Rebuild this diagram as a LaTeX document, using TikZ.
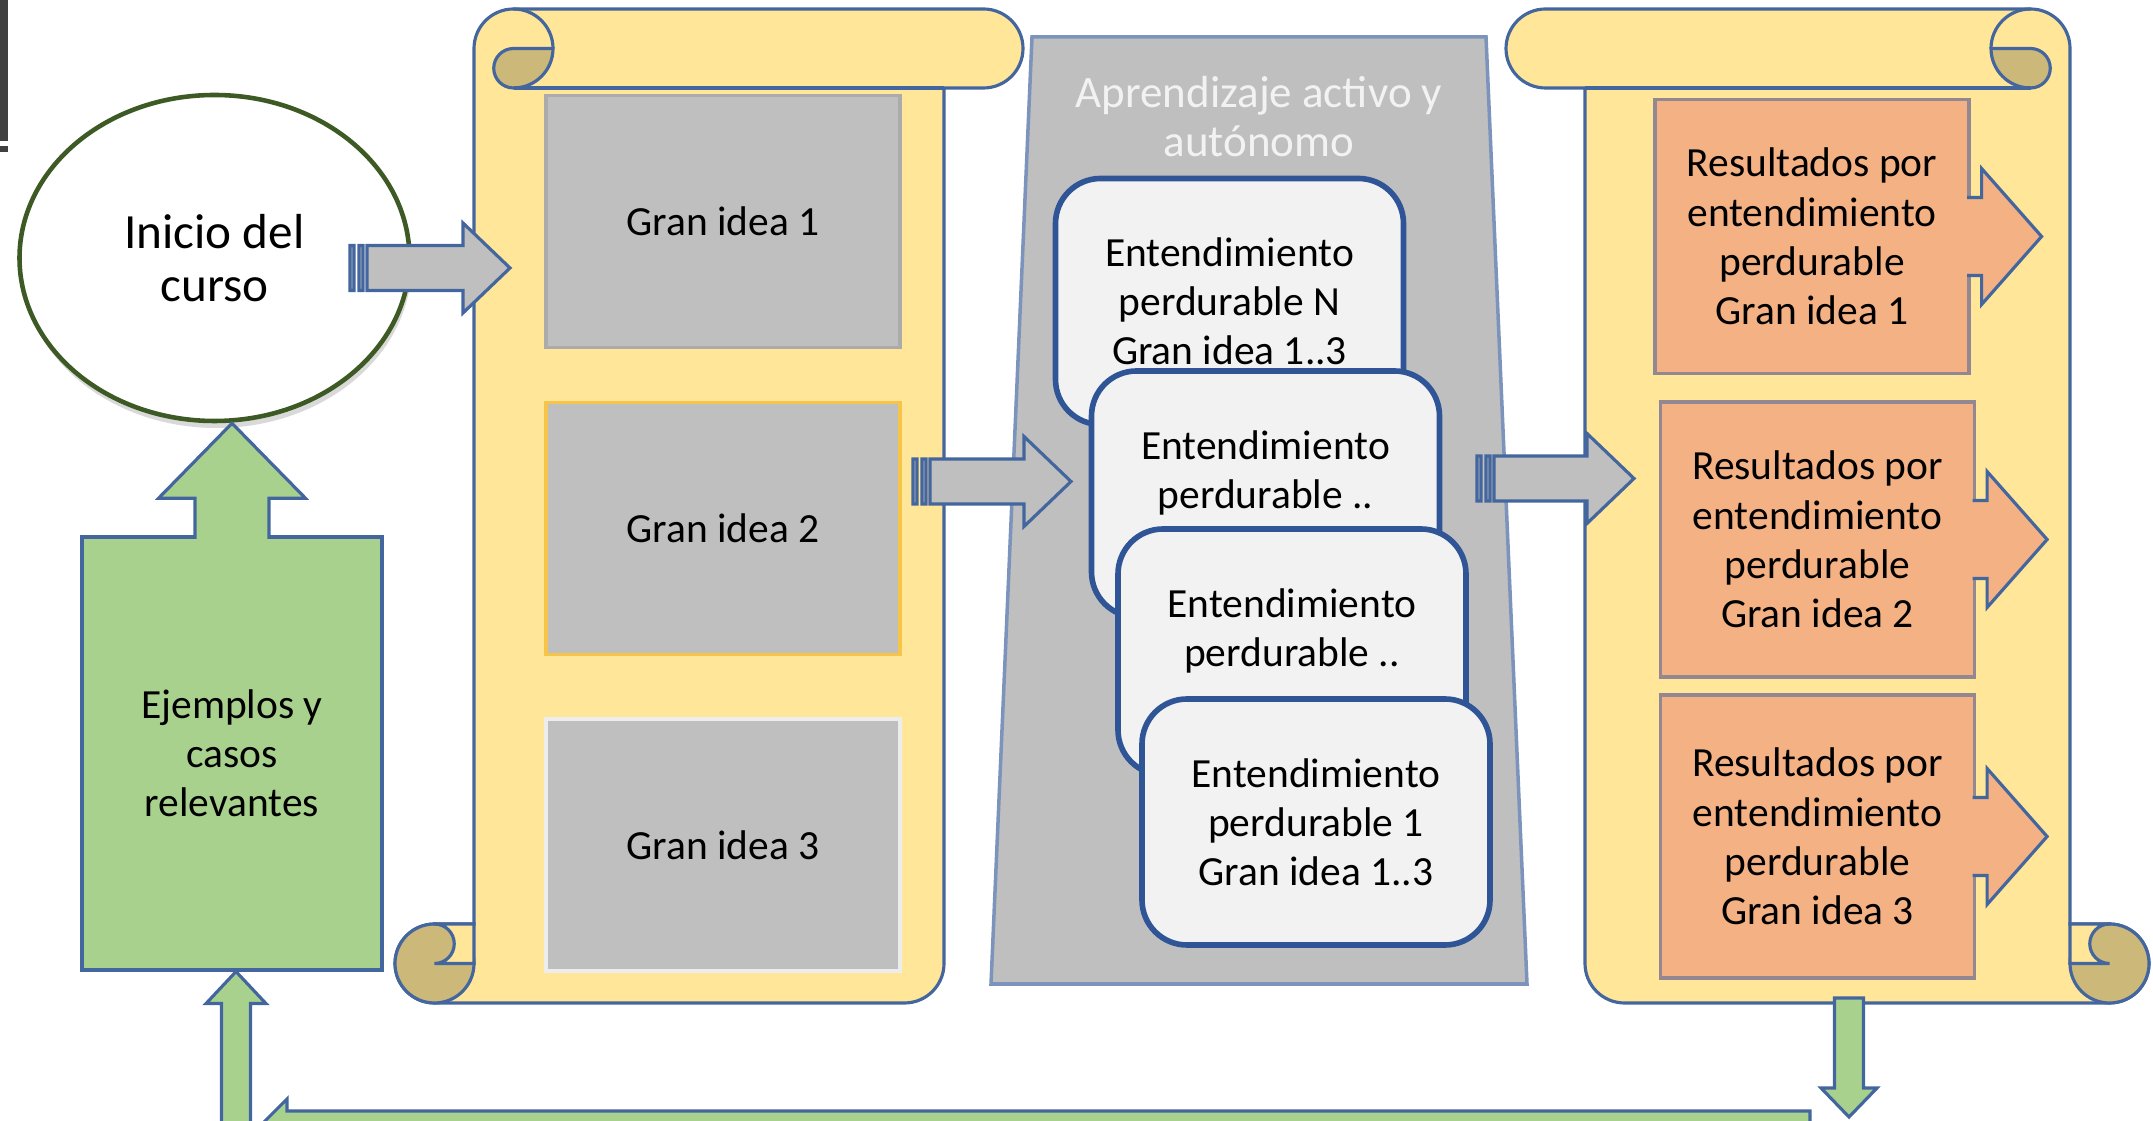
\documentclass[tikz,border=0pt]{standalone}
\usepackage{fontspec}
\setmainfont{Carlito}
\usepackage{xcolor}
\usepackage{tikz}
\usetikzlibrary{shapes.geometric, arrows, positioning, calc, shadows}

\definecolor{rulla}{RGB}{255,230,153}
\definecolor{rullatumma}{RGB}{204,185,122}
\definecolor{reuna}{RGB}{68,102,158}
\definecolor{harmaa}{RGB}{191,191,191}
\definecolor{vaalea}{RGB}{242,242,242}
\definecolor{sininen}{RGB}{47,85,151}
\definecolor{oranssi}{RGB}{244,177,131}
\definecolor{vihrea}{RGB}{169,209,142}
\definecolor{oliivi}{RGB}{62,90,36}
\definecolor{kulta}{RGB}{246,196,72}

\newcommand{\teksti}{\fontsize{11.8}{14}\selectfont}

% Kaaro: #1 leveys, #2 korkeus, origo vasemmassa ylakulmassa
\newcommand{\kaaro}[2]{%
  \filldraw[fill=rulla, draw=reuna, line width=0.9pt]
    (0.79,{-(#2-0.79)}) -- (0.79,-0.395) arc[start angle=180, end angle=90, radius=0.395]
    -- ({#1-0.395},0) arc[start angle=90, end angle=-90, radius=0.395]
    -- ({#1-0.79},-0.79) -- ({#1-0.79},{-(#2-0.395)}) arc[start angle=0, end angle=-90, radius=0.395]
    -- (0.395,-#2) arc[start angle=-90, end angle=-270, radius=0.395] -- cycle;
  \filldraw[fill=rullatumma, draw=reuna, line width=0.9pt]
    (1.58,-0.395) arc[start angle=0, end angle=-90, radius=0.395]
    arc[start angle=-90, end angle=-270, radius=0.1975] -- cycle;
  \draw[reuna, line width=0.9pt] (1.185,0) arc[start angle=90, end angle=0, radius=0.395];
  \draw[reuna, line width=0.9pt] ({#1-0.79},-0.79) -- (1.185,-0.79);
  \filldraw[fill=rullatumma, draw=reuna, line width=0.9pt] (0.395,{-(#2-0.395)}) circle[radius=0.395];
  \filldraw[fill=rulla, draw=reuna, line width=0.9pt]
    (0.395,{-(#2-0.79)}) -- (0.79,{-(#2-0.79)}) -- (0.79,{-(#2-0.395)}) -- (0.395,{-(#2-0.395)})
    arc[start angle=-90, end angle=90, radius=0.1975] -- cycle;
}

\begin{document}
\begin{tikzpicture}[node distance=2cm]
    % Tyylit
    \tikzstyle{alku} = [ellipse, minimum width=3.90cm, minimum height=3.26cm, inner sep=0pt, fill=white, draw=oliivi, line width=1.3pt, drop shadow={opacity=0.3, shadow xshift=0.02cm, shadow yshift=-0.07cm}, align=center, font=\fontsize{14}{15}\selectfont]
    \tikzstyle{idea} = [rectangle, minimum width=3.54cm, minimum height=2.52cm, fill=harmaa, line width=1pt, font=\teksti]
    \tikzstyle{entend} = [rectangle, rounded corners=0.45cm, minimum width=3.48cm, minimum height=2.46cm, fill=vaalea, draw=sininen, line width=1.6pt, align=center, font=\teksti]
    \tikzstyle{tulos} = [rectangle, minimum width=3.14cm, fill=oranssi, draw=reuna!55!oranssi, line width=0.9pt, align=center, font=\teksti]
    \tikzstyle{ejemplo} = [rectangle, minimum width=3.00cm, minimum height=4.33cm, fill=vihrea, draw=reuna, line width=0.9pt, align=center, font=\teksti]
    \tikzstyle{vihr} = [fill=vihrea, draw=reuna, line width=0.9pt]
    \tikzstyle{raita} = [fill=harmaa, draw=reuna, line width=0.9pt, to path={let \p1=(\tikztostart), \p2=(\tikztotarget) in
        (\x1,\y1-0.225cm) rectangle (\x1+0.04cm,\y1+0.225cm)
        (\x1+0.09cm,\y1-0.225cm) rectangle (\x1+0.13cm,\y1+0.225cm)
        (\x1+0.17cm,\y1-0.225cm) -- (\x2-0.47cm,\y1-0.225cm) -- (\x2-0.47cm,\y1-0.45cm) -- (\x2,\y1)
        -- (\x2-0.47cm,\y1+0.45cm) -- (\x2-0.47cm,\y1+0.225cm) -- (\x1+0.17cm,\y1+0.225cm) -- cycle}]
    \tikzset{
        ylos/.style n args={3}{to path={let \p1=(\tikztostart), \p2=(\tikztotarget) in
            (\x1-#1,\y1) -- (\x1-#1,\y2-#3) -- (\x1-#2,\y2-#3) -- (\x1,\y2) -- (\x1+#2,\y2-#3) -- (\x1+#1,\y2-#3) -- (\x1+#1,\y1)}},
        alas/.style n args={3}{to path={let \p1=(\tikztostart), \p2=(\tikztotarget) in
            (\x1-#1,\y1) -- (\x1-#1,\y2+#3) -- (\x1-#2,\y2+#3) -- (\x1,\y2) -- (\x1+#2,\y2+#3) -- (\x1+#1,\y2+#3) -- (\x1+#1,\y1)}},
        vasen/.style n args={3}{to path={let \p1=(\tikztostart), \p2=(\tikztotarget) in
            (\x1,\y1-#1) -- (\x2+#3,\y1-#1) -- (\x2+#3,\y1-#2) -- (\x2,\y1) -- (\x2+#3,\y1+#2) -- (\x2+#3,\y1+#1) -- (\x1,\y1+#1)}},
        oikea/.style n args={3}{to path={let \p1=(\tikztostart), \p2=(\tikztotarget) in
            (\x1,\y1+#1) -- (\x2-#3,\y1+#1) -- (\x2-#3,\y1+#2) -- (\x2,\y1) -- (\x2-#3,\y1-#2) -- (\x2-#3,\y1-#1) -- (\x1,\y1-#1)}}
    }

    \useasboundingbox (0,0) rectangle (21.53,-11.21);
    \clip (0,0) rectangle (21.53,-11.21);
    \fill[black!75] (0,0) rectangle (0.08,-1.41);
    \fill[black!75] (0,-1.46) rectangle (0.08,-1.52);

    % Kaarot ja suppilo
    \begin{scope}[shift={(3.95,-0.09)}]
        \kaaro{6.28}{9.94}
    \end{scope}
    \begin{scope}[shift={(21.49,-0.09)}, xscale=-1]
        \kaaro{6.43}{9.94}
    \end{scope}
    \filldraw[fill=harmaa, draw=reuna!70, line width=1pt] (10.32,-0.37) -- (14.86,-0.37) -- (15.27,-9.84) -- (9.91,-9.84) -- cycle;

    % Solmut
    \node (inicio) [alku] at (2.145,-2.58) {Inicio del\\curso};
    \node (idea1) [idea, draw=black!33] at (7.23,-2.215) {Gran idea 1};
    \node (idea2) [idea, draw=kulta, below of=idea1, yshift=-1.07cm] {Gran idea 2};
    \node (idea3) [idea, draw=black!7, below of=idea2, yshift=-1.165cm] {Gran idea 3};
    \node (otsikko) [text=vaalea, align=center, font=\fontsize{12.8}{14}\selectfont] at (12.59,-1.165) {Aprendizaje activo y\\autónomo};
    \node (entN) [entend] at (12.295,-3.015) {Entendimiento\\perdurable N\\Gran idea 1..3};
    \node (ent2) [entend, below of=entN, xshift=0.36cm, yshift=0.075cm] {Entendimiento\\perdurable ..\\\mbox{}};
    \node (ent3) [entend, below of=ent2, xshift=0.265cm, yshift=0.42cm] {Entendimiento\\perdurable ..\\\mbox{}};
    \node (ent1) [entend, below of=ent3, xshift=0.24cm, yshift=0.30cm] {Entendimiento\\perdurable 1\\Gran idea 1..3};
    \node (res1) [tulos, minimum height=2.74cm] at (18.12,-2.365) {Resultados por\\entendimiento\\perdurable\\Gran idea 1};
    \node (res2) [tulos, minimum height=2.75cm, below of=res1, xshift=0.055cm, yshift=-1.03cm] {Resultados por\\entendimiento\\perdurable\\Gran idea 2};
    \node (res3) [tulos, minimum height=2.83cm, below of=res2, yshift=-0.97cm] {Resultados por\\entendimiento\\perdurable\\Gran idea 3};
    \node (ejem) [ejemplo] at (2.32,-7.535) {Ejemplos y\\casos\\relevantes};

    \coordinate (r1a) at (3.50,-2.68);
    \coordinate (r1b) at (5.10,-2.68);
    \coordinate (r2a) at (9.13,-4.815);
    \coordinate (r2b) at (10.71,-4.815);
    \coordinate (r3a) at (14.77,-4.785);
    \coordinate (r3b) at (16.34,-4.785);
    \coordinate (v1) at (2.36,-11.45);
    \coordinate (v2) at (18.49,-9.98);
    \coordinate (v3) at (18.49,-11.17);
    \coordinate (v4) at (18.10,-11.25);
    \coordinate (v5) at (2.61,-11.25);

    % Nuolet
    \draw [raita] (r1a) to (r1b);
    \draw [raita] (r2a) to (r2b);
    \draw [raita] (r3a) to (r3b);
    \draw [fill=oranssi, draw=reuna, line width=0.9pt, oikea={0.39cm}{0.68cm}{0.60cm}] ([xshift=-0.035cm]res1.east) to ([xshift=0.71cm]res1.east);
    \draw [fill=oranssi, draw=reuna, line width=0.9pt, oikea={0.39cm}{0.68cm}{0.60cm}] ([xshift=-0.035cm]res2.east) to ([xshift=0.71cm]res2.east);
    \draw [fill=oranssi, draw=reuna, line width=0.9pt, oikea={0.39cm}{0.68cm}{0.60cm}] ([xshift=-0.035cm]res3.east) to ([xshift=0.71cm]res3.east);
    \draw [vihr, ylos={0.37cm}{0.735cm}{0.75cm}] ([yshift=-0.035cm]ejem.north) to (inicio.south);
    \draw [vihr, ylos={0.145cm}{0.30cm}{0.32cm}] (v1) to (ejem.south);
    \draw [vihr, alas={0.145cm}{0.28cm}{0.29cm}] (v2) to (v3) -- cycle;
    \draw [vihr, vasen={0.14cm}{0.26cm}{0.26cm}] (v4) to (v5) -- cycle;
\end{tikzpicture}
\end{document}
